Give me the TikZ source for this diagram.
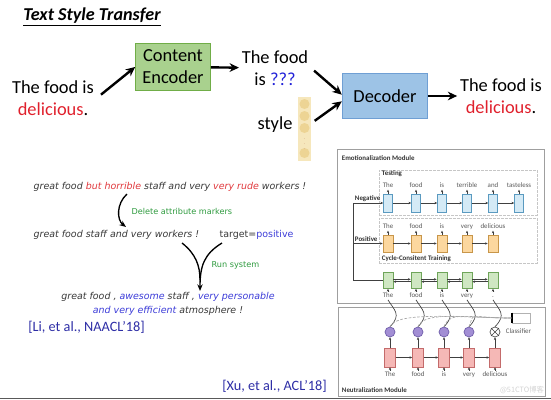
\documentclass[tikz,border=0pt]{standalone}
\usepackage{fontspec}
\setmainfont{Carlito}
\newfontfamily\dejavu{DejaVu Sans}
\newfontfamily\cjkfont{Noto Sans CJK SC}
\usetikzlibrary{positioning,arrows.meta,calc}

\definecolor{encfill}{HTML}{A9D18E}
\definecolor{encline}{HTML}{70AD47}
\definecolor{decfill}{HTML}{9DC3E6}
\definecolor{decline}{HTML}{6F9FD4}
\definecolor{redword}{HTML}{E0202C}
\definecolor{blueword}{HTML}{2020D8}
\definecolor{citeblue}{HTML}{2E2EA6}
\definecolor{notegreen}{HTML}{2E9A3E}
\definecolor{attrred}{HTML}{E0383C}
\definecolor{attrblue}{HTML}{3C3CD8}
\definecolor{txtgray}{HTML}{383838}
\definecolor{vecfill}{HTML}{F6E7BC}
\definecolor{vecdot}{HTML}{EDD494}
\definecolor{negfill}{HTML}{D4EAF6}
\definecolor{negline}{HTML}{5A9AC0}
\definecolor{posfill}{HTML}{FCD79E}
\definecolor{posline}{HTML}{C8964A}
\definecolor{cycfill}{HTML}{CFE7C2}
\definecolor{cycline}{HTML}{6FA55A}
\definecolor{neufill}{HTML}{F5B8B6}
\definecolor{neuline}{HTML}{C46B6B}
\definecolor{clsfill}{HTML}{A28ED4}
\definecolor{clsline}{HTML}{6C5AA8}

\tikzset{
  heading/.style={font=\fontsize{13.6}{16}\selectfont\bfseries\itshape, inner sep=0pt},
  bigtxt/.style={font=\fontsize{13.8}{16.5}\selectfont, align=center, inner sep=2pt},
  encbox/.style={rectangle, draw=encline, fill=encfill, line width=0.8pt, minimum width=56pt, minimum height=35pt, align=center, font=\fontsize{13.8}{16.5}\selectfont, inner sep=1pt},
  decbox/.style={rectangle, draw=decline, fill=decfill, line width=0.8pt, minimum width=64pt, minimum height=34pt, font=\fontsize{13.8}{16.5}\selectfont},
  bigarr/.style={->, line width=1.8pt, >={Stealth[length=7pt,width=6.5pt]}},
  vecbar/.style={rectangle, fill=vecfill, minimum width=10pt, minimum height=48pt, inner sep=0pt},
  vecdotstyle/.style={circle, fill=vecdot, minimum size=7.5pt, inner sep=0pt},
  note/.style={font=\dejavu\itshape\fontsize{7.1}{10.5}\selectfont, text=txtgray, inner sep=1pt, align=center},
  noteup/.style={font=\dejavu\fontsize{7.1}{9}\selectfont, text=txtgray, inner sep=1pt},
  steplbl/.style={font=\dejavu\fontsize{6.1}{8}\selectfont, text=notegreen, inner sep=1pt},
  citelbl/.style={font=\fontsize{10.7}{13}\selectfont, text=citeblue, inner sep=0pt},
  curvarr/.style={->, line width=1pt, >={Stealth[length=5pt,width=4pt]}},
  curvline/.style={line width=1pt},
  modframe/.style={rectangle, draw=gray!75, line width=0.7pt, inner sep=0pt},
  dashframe/.style={rectangle, draw=gray!45, dash pattern=on 2pt off 1pt, line width=0.6pt, inner sep=0pt},
  modlbl/.style={font=\fontsize{5.2}{6}\selectfont\bfseries, text=black!80, inner sep=0.5pt},
  wrd/.style={font=\fontsize{5.2}{6}\selectfont, text=black!65, inner sep=0.5pt, text height=3.8pt, text depth=1.1pt},
  negcell/.style={rectangle, draw=negline, fill=negfill, line width=0.5pt, minimum width=6.75pt, minimum height=13.5pt, inner sep=0pt},
  poscell/.style={rectangle, draw=posline, fill=posfill, line width=0.5pt, minimum width=7.5pt, minimum height=12.75pt, inner sep=0pt},
  cyccell/.style={rectangle, draw=cycline, fill=cycfill, line width=0.5pt, minimum width=7.5pt, minimum height=12pt, inner sep=0pt},
  neucell/.style={rectangle, draw=neuline, fill=neufill, line width=0.5pt, minimum width=8.25pt, minimum height=14.25pt, inner sep=0pt},
  clsdot/.style={circle, draw=clsline, fill=clsfill, minimum size=7.5pt, inner sep=0pt, line width=0.5pt},
  xdot/.style={circle, draw=black!70, fill=white, minimum size=7.5pt, inner sep=0pt, line width=0.5pt},
  clsbox/.style={rectangle, draw=gray!60, fill=white, minimum width=13.5pt, minimum height=7.5pt, inner sep=0pt, line width=0.5pt},
  tinyarr/.style={->, line width=0.45pt, black!75, >={Stealth[length=2pt,width=1.8pt]}},
  linkcurve/.style={line width=0.5pt, black!75},
  dashcurve/.style={dash pattern=on 2pt off 1.2pt, gray!70, line width=0.5pt},
}

\begin{document}
\begin{tikzpicture}[x=0.75pt, y=-0.75pt]
  \useasboundingbox (0,0) rectangle (551,400);

  % top half: encoder / decoder
  \node[heading] (title) at (92,17) {\underline{Text Style Transfer}};
  \node[bigtxt] (src) at (53,98) {The food is\\\textcolor{redword}{delicious}.};
  \node[encbox] (enc) at (173,67) {Content\\Encoder};
  \node[bigtxt] (mid) at (275,68) {The food\\is \textcolor{blueword}{???}};
  \node[bigtxt] (stylelbl) at (275,125) {style};
  \node[vecbar] (vec) at (304.5,128.5) {};
  \foreach \cy [count=\i] in {104,116,128,153}
    \node[vecdotstyle] (vd\i) at (304.5,\cy) {};
  \node[font=\tiny, text=brown!60, inner sep=0pt] (vdots) at (304.5,140) {$\vdots$};
  \node[decbox] (dec) at (385,96) {Decoder};
  \node[bigtxt] (out) at (501,96) {The food is\\\textcolor{redword}{delicious}.};

  \draw[bigarr, shorten <=4pt] (src.east) -- (enc.west);
  \draw[bigarr] (enc) -- (mid);
  \draw[bigarr, shorten <=3pt] (mid.east) -- ([yshift=1pt]dec.west);
  \draw[bigarr, shorten <=3pt] ([yshift=4pt]vec.east) -- ([yshift=-4pt]dec.west);
  \draw[bigarr] (dec) -- (out);

  % lower left: delete, retrieve, generate
  \node[note, anchor=west] (orig) at (32,187) {great food \textcolor{attrred}{but horrible} staff and very \textcolor{attrred}{very rude} workers !};
  \node[steplbl, anchor=west] (dellbl) at (130,211) {Delete attribute markers};
  \node[note, anchor=west] (del) at (32,235) {great food staff and very workers !};
  \node[noteup, anchor=west] (tgt) at (218,235) {target=\textcolor{attrblue}{positive}};
  \node[steplbl, anchor=west] (runlbl) at (210,265) {Run system};
  \node[note] (res) at (168,304) {great food , \textcolor{attrblue}{awesome} staff , \textcolor{attrblue}{very personable}\\\textcolor{attrblue}{and very efficient} atmosphere !};
  \node[citelbl, anchor=west] (li) at (28,327) {[Li, et al., NAACL’18]};
  \node[citelbl, anchor=west] (xu) at (222,386) {[Xu, et al., ACL’18]};

  \coordinate (delfrom) at (127,194);
  \coordinate (delto) at (126,227);
  \coordinate (runL) at (182,243);
  \coordinate (runR) at (222,243);
  \coordinate (runto) at (200,291);
  \draw[curvarr] (delfrom) .. controls (116,204) and (117,220) .. (delto);
  \draw[curvline] (runL) .. controls (196,254) and (200,266) .. (200,280);
  \draw[curvarr] (runR) .. controls (204,254) and (200,266) .. (runto);

  % right: emotionalization / neutralization modules
  \node[modframe, minimum width=155.25pt, minimum height=115.5pt] (emo) at (441,226) {};
  \node[modframe, minimum width=155.25pt, minimum height=66.75pt] (neu) at (441.5,351.5) {};
  \node[dashframe, minimum width=118.5pt, minimum height=33.75pt] (testfr) at (458,192.5) {};
  \node[dashframe, minimum width=118.5pt, minimum height=33.75pt] (cycfr) at (458,240.5) {};
  \node[modlbl, anchor=west] (emolbl) at (341,158) {Emotionalization Module};
  \node[modlbl, anchor=west] (testlbl) at (381,174) {Testing};
  \node[modlbl, anchor=west] (neglbl) at (354,199) {Negative};
  \node[modlbl, anchor=west] (poslbl) at (354,239) {Positive};
  \node[modlbl, anchor=west] (cyclbl) at (381,259) {Cycle-Consitent Training};
  \node[modlbl, anchor=west] (neulbl) at (341,390) {Neutralization Module};

  \foreach \x/\w [count=\i] in {388/The,416/food,442/is,467/terrible,493/and,519/tasteless} {
    \node[negcell] (n\i) at (\x,203) {};
    \node[wrd, above=3pt of n\i] (nw\i) {\w};
    \draw[tinyarr] (n\i) -- (nw\i);
  }
  \foreach \x/\w [count=\i] in {388/The,416/food,442/is,467/very,493/delicious} {
    \node[poscell] (o\i) at (\x,243.5) {};
    \node[wrd, above=3pt of o\i] (ow\i) {\w};
    \draw[tinyarr] (o\i) -- (ow\i);
    \node[cyccell] (g\i) at (\x,280.5) {};
    \node[wrd, below=2pt of g\i] (gw\i) {\ifnum\i=5 .\else\w\fi};
    \draw[tinyarr] (gw\i) -- (g\i);
    \node[neucell] (p\i) at (\x+2,357.5) {};
    \node[wrd, below=2.5pt of p\i] (pw\i) {\w};
    \draw[tinyarr] (pw\i) -- (p\i);
  }
  \foreach \i/\j in {1/2,2/3,3/4,4/5,5/6}
    \draw[tinyarr] (n\i) -- (n\j);
  \foreach \i/\j in {1/2,2/3,3/4,4/5} {
    \draw[tinyarr] (o\i) -- (o\j);
    \draw[tinyarr] ([yshift=0.9pt]g\i.east) -- ([yshift=0.9pt]g\j.west);
    \draw[tinyarr] ([yshift=-0.9pt]g\j.west) -- ([yshift=-0.9pt]g\i.east);
    \draw[tinyarr] (p\i) -- (p\j);
  }

  \coordinate (fbtop) at (353,203);
  \coordinate (fbmid) at (353,243.5);
  \coordinate (fbbot) at (353,280.5);
  \draw[black!75, line width=0.5pt] (g1.west) -- (fbbot) -- (fbtop);
  \draw[tinyarr] (fbtop) -- (n1.west);
  \draw[tinyarr] (fbmid) -- (o1.west);

  \foreach \x [count=\i] in {390,418,444,469}
    \node[clsdot] (c\i) at (\x,332) {};
  \node[xdot] (c5) at (495,332) {};
  \draw[black!75, line width=0.5pt] (c5.north east) -- (c5.south west) (c5.north west) -- (c5.south east);
  \node[clsbox] (cls) at (521,318) {};
  \draw[line width=1.6pt] (cls.north west) -- (cls.south west);
  \node[wrd, anchor=west] (clslbl) at (505,332) {Classifier};

  \foreach \i in {1,...,5} {
    \draw[tinyarr] (p\i) -- (c\i);
    \draw[linkcurve] (c\i.north) .. controls +(12,-12) and +(6,10) .. (gw\i.south);
  }
  \foreach \i in {1,...,4}
    \draw[dashcurve] (c\i.north) .. controls +(6,-16) and +(-45,0) .. (cls.west);

  \node[font=\cjkfont\fontsize{5.5}{6}\selectfont, text=gray!35, inner sep=0pt] (mark) at (522,390) {@51CTO博客};
  \draw[gray!70!black, line width=1pt] (0,398.5) -- (551,398.5);
\end{tikzpicture}
\end{document}
